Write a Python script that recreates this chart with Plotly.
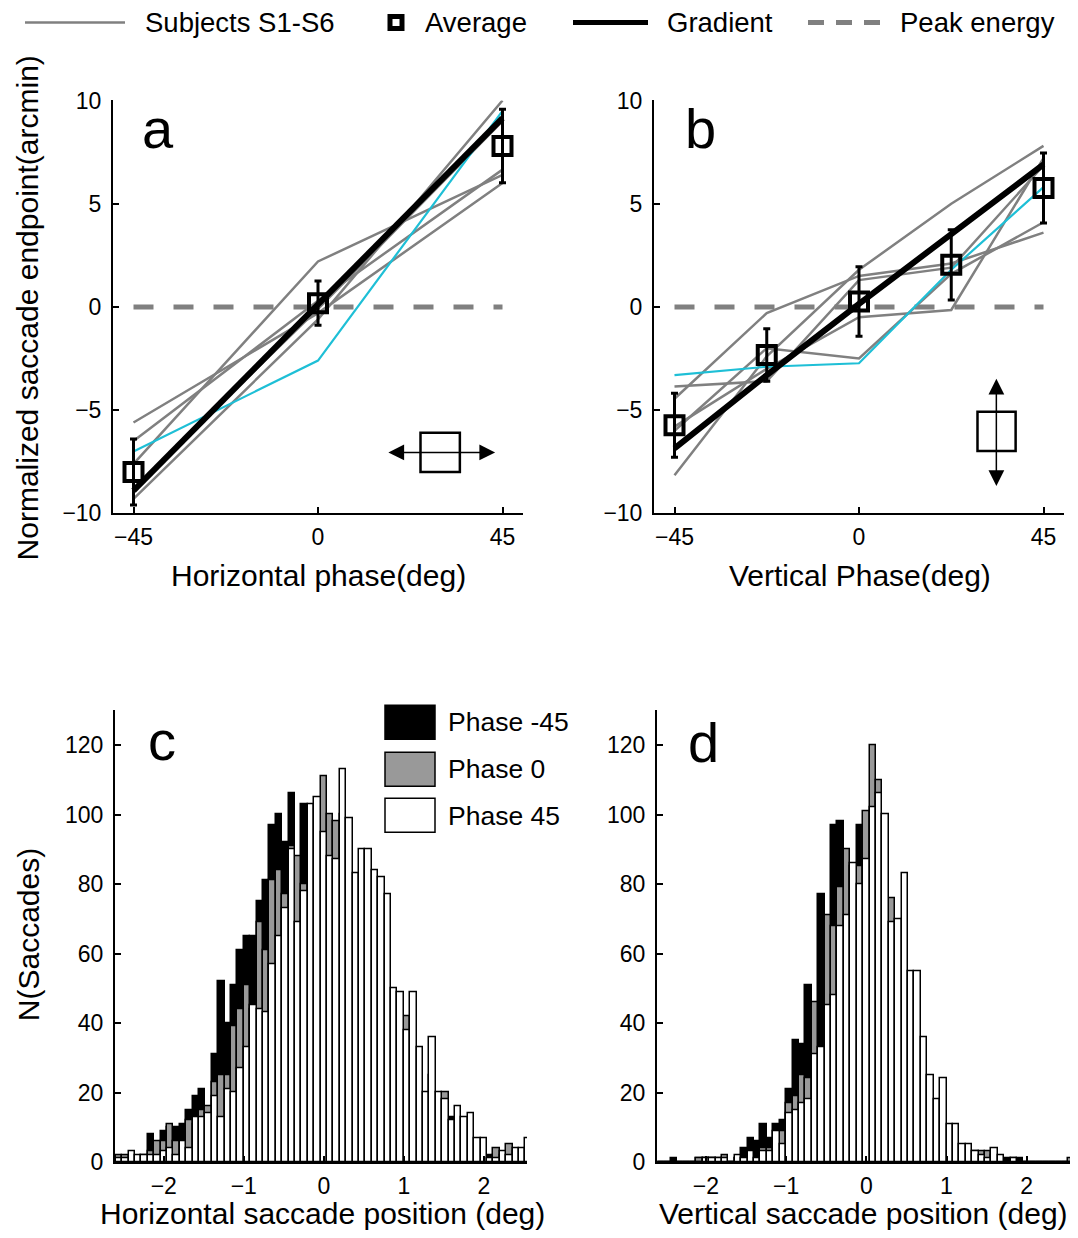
import plotly.graph_objects as go

W, H = 1078, 1238
FONT = "Liberation Sans, Arial, Helvetica, sans-serif"
GRAY = "#808080"
CYAN = "#1ebfd6"
HIST_GRAY = "#999999"

phase_a = [-45, 0, 45]
subj_a1 = [-5.6, -0.3, 6.0]
subj_a2 = [-6.5, 0.3, 6.65]
subj_a3 = [-7.6, 2.2, 6.4]
subj_a4 = [-8.8, -0.1, 9.0]
subj_a5 = [-9.3, -0.6, 10.0]
subj_a_cyan = [-7.0, -2.6, 9.5]
avg_a = [-8.0, 0.18, 7.8]
err_a = [1.6, 1.07, 1.78]
gradient_a = [-8.9, 0.15, 9.15]

phase_b = [-45, -22.5, 0, 22.5, 45]
subj_b1 = [-8.15, -2.4, 1.8, 5.0, 7.8]
subj_b2 = [-4.45, -0.3, 1.5, 2.1, 3.6]
subj_b3 = [-3.85, -3.6, 1.3, 1.9, 6.85]
subj_b4 = [-6.0, -2.0, -2.5, 1.6, 4.1]
subj_b5 = [-5.8, -3.0, -0.5, -0.15, 7.2]
subj_b_cyan = [-3.3, -2.9, -2.73, 1.8, 5.8]
avg_b = [-5.73, -2.33, 0.26, 2.04, 5.76]
err_b = [1.55, 1.27, 1.68, 1.70, 1.70]
gradient_b = [-6.85, -3.3, 0.15, 3.55, 6.9]

peak_x = [-45, 45]
peak_y = [0, 0]

BIN_W = 0.08
bin_index = list(range(-32, 33))
bin_centers = [round(k * BIN_W, 2) for k in bin_index]

c_phase_m45 = [1, 1, 1, 1, 2, 8, 4, 9, 10, 10, 11, 15, 19, 21, 14, 31, 52, 40, 51, 61,
               65, 65, 75, 81, 97, 100, 92, 106, 80, 103, 95, 90, 100, 90, 85, 90, 85, 70, 70, 62,
               60, 55, 50, 35, 30, 30, 25, 18, 10, 15, 10, 12, 13, 8, 6, 5, 3, 3, 2, 2,
               2, 2, 1, 2, 3]
c_phase_0 = [2, 2, 1, 1, 1, 3, 6, 6, 11, 6, 6, 12, 11, 15, 16, 23, 25, 25, 39, 44,
             51, 44, 69, 61, 81, 84, 77, 91, 88, 80, 98, 100, 111, 100, 98, 100, 90, 75, 80, 78,
             72, 70, 65, 42, 40, 42, 35, 25, 15, 25, 15, 20, 10, 12, 10, 10, 5, 5, 1, 4,
             2, 5, 3, 3, 4]
c_phase_45 = [1, 1, 3, 2, 2, 2, 2, 3, 4, 2, 6, 4, 13, 13, 14, 19, 13, 21, 20, 27,
              33, 45, 44, 43, 57, 65, 73, 90, 69, 78, 103, 105, 95, 88, 87, 113, 99, 83, 90, 90,
              84, 82, 77, 50, 49, 38, 49, 33, 20, 36, 20, 18, 12, 16, 13, 14, 7, 7, 1, 1,
              3, 2, 4, 4, 7]

d_phase_m45 = [0, 0, 1, 0, 0, 0, 1, 1, 1, 0, 1, 0, 1, 4, 7, 6, 11, 7, 11, 12,
               21, 35, 34, 51, 40, 77, 68, 97, 98, 85, 80, 97, 90, 95, 90, 80, 60, 55, 50, 40,
               35, 25, 15, 12, 10, 6, 5, 3, 2, 1, 1, 1, 1, 0, 1, 0, 1, 0, 0, 0,
               0, 0, 0, 0, 0]
d_phase_0 = [0, 0, 0, 0, 0, 0, 1, 1, 1, 1, 2, 0, 1, 1, 2, 1, 4, 4, 6, 9,
             17, 19, 25, 24, 46, 30, 71, 68, 79, 90, 85, 85, 101, 120, 110, 95, 76, 65, 70, 50,
             45, 30, 20, 15, 18, 9, 8, 4, 4, 3, 3, 3, 2, 1, 0, 1, 0, 0, 0, 0,
             0, 0, 0, 0, 1]
d_phase_45 = [0, 0, 0, 0, 0, 0, 0, 1, 1, 1, 1, 0, 2, 1, 3, 1, 3, 3, 9, 5,
              14, 15, 17, 18, 31, 33, 45, 48, 68, 71, 86, 80, 87, 102, 106, 100, 69, 70, 83, 55,
              55, 36, 25, 18, 24, 11, 11, 5, 5, 3, 2, 1, 4, 2, 0, 1, 0, 0, 0, 0,
              0, 0, 0, 0, 0]

ticks_ab_x = [-45, 0, 45]
ticks_ab_y = [-10, -5, 0, 5, 10]
ticks_cd_x = [-2, -1, 0, 1, 2]
ticks_cd_y = [0, 20, 40, 60, 80, 100, 120]

# The photographed page shows the figure in rows ~12.5..1225.7 of the picture;
# positions below are target picture pixels, mapped into figure paper units.
PHOTO_TOP, PHOTO_SCALE = 12.5, 0.9793


def px(x):
    return x / W


def py(y):
    return 1 - ((y - PHOTO_TOP) / PHOTO_SCALE) / H


fig = go.Figure()


def add_line_panel(xa, ya, phases, subjects, cyan, grad, avg, err):
    fig.add_trace(go.Scatter(x=peak_x, y=peak_y, mode="lines", xaxis=xa, yaxis=ya,
                             line=dict(color=GRAY, width=5, dash="20px,20px"),
                             showlegend=False, hoverinfo="skip"))
    for s in subjects:
        fig.add_trace(go.Scatter(x=phases, y=s, mode="lines", xaxis=xa, yaxis=ya,
                                 line=dict(color=GRAY, width=2.5), showlegend=False))
    fig.add_trace(go.Scatter(x=phases, y=cyan, mode="lines", xaxis=xa, yaxis=ya,
                             line=dict(color=CYAN, width=2.2), showlegend=False))
    fig.add_trace(go.Scatter(x=phases, y=grad, mode="lines", xaxis=xa, yaxis=ya,
                             line=dict(color="black", width=6), showlegend=False))
    fig.add_trace(go.Scatter(x=phases, y=avg, mode="markers", xaxis=xa, yaxis=ya,
                             marker=dict(symbol="square-open", size=18, color="black",
                                         line=dict(width=4, color="black")),
                             error_y=dict(type="data", array=err, color="black",
                                          thickness=3, width=3.5),
                             showlegend=False))


add_line_panel("x", "y", phase_a, [subj_a1, subj_a2, subj_a3, subj_a4, subj_a5],
               subj_a_cyan, gradient_a, avg_a, err_a)
add_line_panel("x2", "y2", phase_b, [subj_b1, subj_b2, subj_b3, subj_b4, subj_b5],
               subj_b_cyan, gradient_b, avg_b, err_b)

for xa, ya, series in [("x3", "y3", [c_phase_m45, c_phase_0, c_phase_45]),
                       ("x4", "y4", [d_phase_m45, d_phase_0, d_phase_45])]:
    for vals, col, name in zip(series, ["black", HIST_GRAY, "white"],
                               ["Phase -45", "Phase 0", "Phase 45"]):
        fig.add_trace(go.Bar(x=bin_centers, y=vals, width=BIN_W, name=name,
                             xaxis=xa, yaxis=ya,
                             marker=dict(color=col, line=dict(color="black", width=1.5)),
                             showlegend=False))

axis_common = dict(showline=True, linecolor="black", linewidth=2, ticks="inside",
                   ticklen=6, tickwidth=1.5, tickcolor="black", showgrid=False,
                   zeroline=False, fixedrange=True,
                   tickfont=dict(family=FONT, size=23, color="black"))

layout_axes = dict(
    xaxis=dict(axis_common, domain=[px(113), px(523)], range=[-50, 50],
               tickvals=ticks_ab_x, anchor="y", ticklabelstandoff=2),
    yaxis=dict(axis_common, domain=[py(513), py(100)], range=[-10, 10],
               tickvals=ticks_ab_y, anchor="x", ticklabelstandoff=5),
    xaxis2=dict(axis_common, domain=[px(654), px(1064)], range=[-50, 50],
                tickvals=ticks_ab_x, anchor="y2", ticklabelstandoff=2),
    yaxis2=dict(axis_common, domain=[py(513), py(100)], range=[-10, 10],
                tickvals=ticks_ab_y, anchor="x2", ticklabelstandoff=5),
    xaxis3=dict(axis_common, domain=[px(115), px(527)], range=[-2.61, 2.54],
                tickvals=ticks_cd_x, anchor="y3", ticklabelstandoff=2),
    yaxis3=dict(axis_common, domain=[py(1162), py(710)], range=[0, 130],
                tickvals=ticks_cd_y, anchor="x3", ticklabelstandoff=5),
    xaxis4=dict(axis_common, domain=[px(657), px(1070)], range=[-2.61, 2.54],
                tickvals=ticks_cd_x, anchor="y4", ticklabelstandoff=2),
    yaxis4=dict(axis_common, domain=[py(1162), py(710)], range=[0, 130],
                tickvals=ticks_cd_y, anchor="x4", ticklabelstandoff=5),
)

shapes = []
annotations = []


def text(x, y, s, size, xanchor="left", angle=0):
    annotations.append(dict(x=px(x), y=py(y), xref="paper", yref="paper", text=s,
                            showarrow=False, xanchor=xanchor, yanchor="middle",
                            textangle=angle,
                            font=dict(family=FONT, size=size, color="black")))


LEG = 27.5
shapes.append(dict(type="line", xref="paper", yref="paper", x0=px(25), x1=px(125),
                   y0=py(22), y1=py(22), line=dict(color=GRAY, width=2.5)))
text(143, 22, "Subjects S1-S6", LEG)
shapes.append(dict(type="rect", xref="paper", yref="paper", x0=px(390), x1=px(402),
                   y0=py(16), y1=py(28), fillcolor="white",
                   line=dict(color="black", width=5)))
text(423, 22, "Average", LEG)
shapes.append(dict(type="line", xref="paper", yref="paper", x0=px(573), x1=px(648),
                   y0=py(22), y1=py(22), line=dict(color="black", width=5)))
text(665, 22, "Gradient", LEG)
shapes.append(dict(type="line", xref="paper", yref="paper", x0=px(808), x1=px(880),
                   y0=py(22), y1=py(22), line=dict(color=GRAY, width=5, dash="16px,12px")))
text(898, 22, "Peak energy", LEG)

for y0, y1, col, lab, ty in [(705, 739, "black", "Phase -45", 722),
                             (752, 786, HIST_GRAY, "Phase 0", 769),
                             (798, 832, "white", "Phase 45", 816)]:
    shapes.append(dict(type="rect", xref="paper", yref="paper", x0=px(385), x1=px(435),
                       y0=py(y1), y1=py(y0), fillcolor=col,
                       line=dict(color="black", width=1.5)))
    text(446, ty, lab, 26.5)

shapes.append(dict(type="rect", xref="x", yref="y", x0=25.0, x1=34.6, y0=-8.0, y1=-6.1,
                   line=dict(color="black", width=2.5), fillcolor="rgba(0,0,0,0)"))
shapes.append(dict(type="rect", xref="x2", yref="y2", x0=28.9, x1=38.2, y0=-6.98, y1=-5.08,
                   line=dict(color="black", width=2.5), fillcolor="rgba(0,0,0,0)"))
annotations.append(dict(x=43.2, y=-7.05, ax=16.8, ay=-7.05, xref="x", yref="y",
                        axref="x", ayref="y", text="", showarrow=True,
                        arrowhead=2, startarrowhead=2, arrowside="end+start",
                        arrowsize=2.1, startarrowsize=2.1, arrowwidth=1.5,
                        arrowcolor="black"))
annotations.append(dict(x=33.5, y=-8.67, ax=33.5, ay=-3.41, xref="x2", yref="y2",
                        axref="x2", ayref="y2", text="", showarrow=True,
                        arrowhead=2, startarrowhead=2, arrowside="end+start",
                        arrowsize=2.1, startarrowsize=2.1, arrowwidth=1.5,
                        arrowcolor="black"))

text(158, 128, "a", 56, "center")
text(700, 128, "b", 56, "center")
text(162, 740, "c", 56, "center")
text(703, 742, "d", 56, "center")

TT = 30
text(27, 308, "Normalized saccade endpoint(arcmin)", TT, "center", -90)
text(318, 575, "Horizontal phase(deg)", TT, "center")
text(860, 575, "Vertical Phase(deg)", TT, "center")
text(28, 935, "N(Saccades)", TT, "center", -90)
text(322, 1213, "Horizontal saccade position (deg)", TT, "center")
text(863, 1213, "Vertical saccade position (deg)", TT, "center")

fig.update_layout(
    width=W, height=H,
    margin=dict(l=0, r=0, t=0, b=0),
    paper_bgcolor="white", plot_bgcolor="white",
    barmode="overlay", bargap=0,
    font=dict(family=FONT, color="black"),
    shapes=shapes, annotations=annotations,
    showlegend=False,
    **layout_axes,
)

fig.write_html(
    "out.html",
    config={"displayModeBar": False},
    post_script=("document.documentElement.style.margin='0';"
                 "document.body.style.margin='0';document.body.style.padding='0';"
                 "document.documentElement.style.overflow='hidden';"
                 "document.body.style.overflow='hidden';"),
)
